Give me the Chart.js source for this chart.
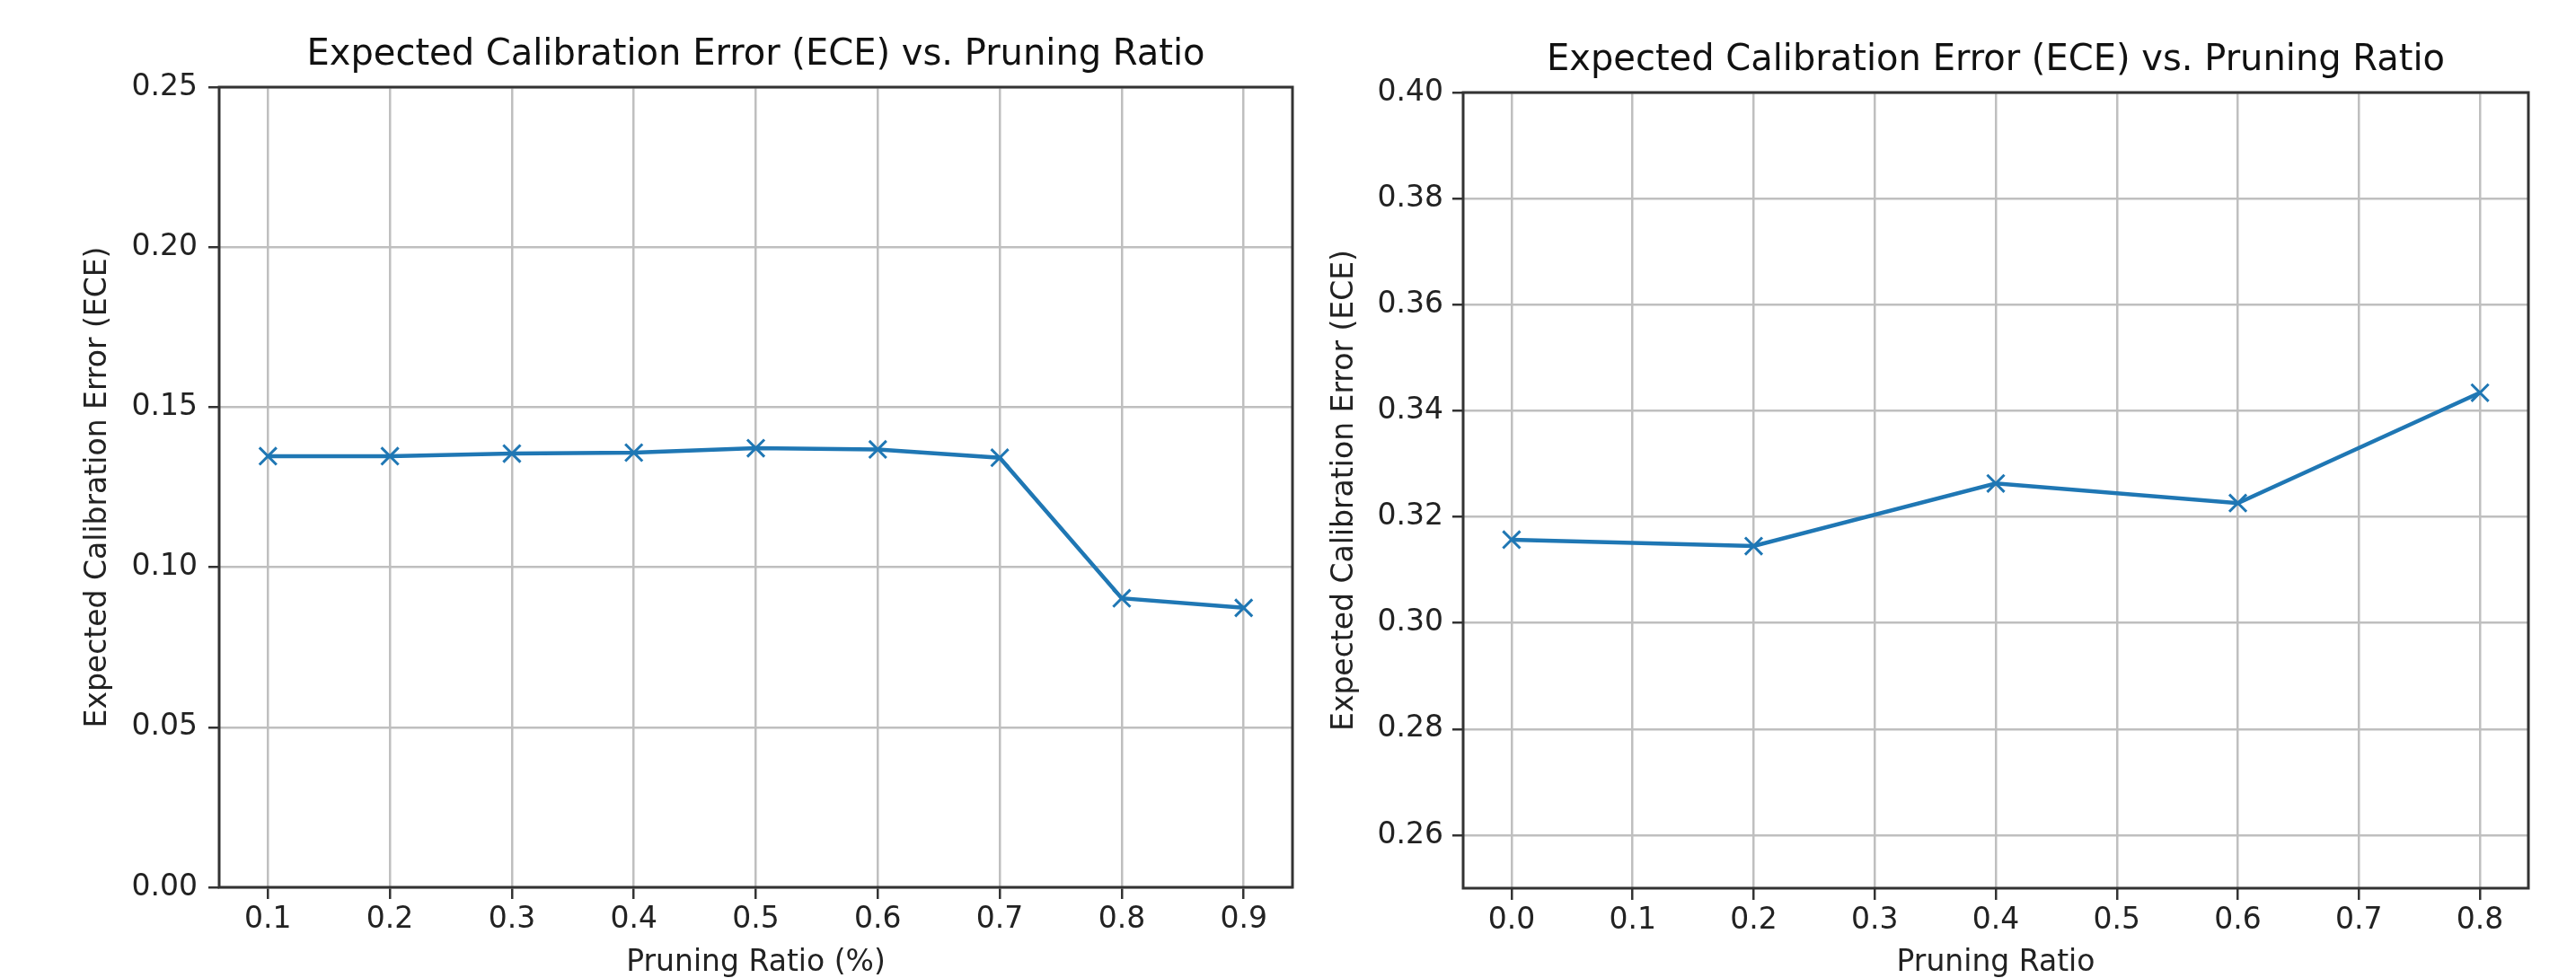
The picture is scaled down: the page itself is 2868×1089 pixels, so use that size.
<!DOCTYPE html>
<html>
<head>
<meta charset="utf-8">
<title>Expected Calibration Error (ECE) vs. Pruning Ratio</title>
<script src="https://cdn.jsdelivr.net/npm/chart.js@4.4.1/dist/chart.umd.min.js"></script>
<style>
  html, body { margin: 0; padding: 0; background: #fff; }
  body { width: 2868px; height: 1089px; position: relative; overflow: hidden; }
  canvas { position: absolute; top: 0; }
  #eceLeft { left: 0; }
  #eceRight { left: 1460px; }
</style>
</head>
<body>
<canvas id="eceLeft" width="1460" height="1089"></canvas>
<canvas id="eceRight" width="1408" height="1089"></canvas>
<script>
// Left panel: pruning ratio 0.1 .. 0.9
var leftRatios = [0.1, 0.2, 0.3, 0.4, 0.5, 0.6, 0.7, 0.8, 0.9];
var leftEce = [0.1347, 0.1347, 0.1355, 0.1358, 0.1372, 0.1368, 0.1342, 0.0903, 0.0873];
var leftXTicks = [0.1, 0.2, 0.3, 0.4, 0.5, 0.6, 0.7, 0.8, 0.9];
var leftYTicks = [0.00, 0.05, 0.10, 0.15, 0.20, 0.25];

// Right panel: pruning ratio 0.0 .. 0.8 (step 0.2)
var rightRatios = [0.0, 0.2, 0.4, 0.6, 0.8];
var rightEce = [0.3157, 0.3145, 0.3263, 0.3226, 0.3434];
var rightXTicks = [0.0, 0.1, 0.2, 0.3, 0.4, 0.5, 0.6, 0.7, 0.8];
var rightYTicks = [0.26, 0.28, 0.30, 0.32, 0.34, 0.36, 0.38, 0.40];

var TITLE = 'Expected Calibration Error (ECE) vs. Pruning Ratio';
var Y_LABEL = 'Expected Calibration Error (ECE)';
var FONT = '"DejaVu Sans", sans-serif';
var TEXT = '#222';

// draw all four spines around the plot area
var framePlugin = {
  id: 'frame',
  afterDraw: function (chart) {
    var a = chart.chartArea;
    var ctx = chart.ctx;
    ctx.save();
    ctx.strokeStyle = '#333';
    ctx.lineWidth = 3;
    ctx.strokeRect(a.left, a.top, a.right - a.left, a.bottom - a.top);
    ctx.restore();
  }
};

function fixedTicks(list) {
  return function (scale) {
    scale.ticks = list.map(function (v) { return { value: v }; });
  };
}

function makeChart(canvas, cfg) {
  var points = cfg.xs.map(function (x, i) { return { x: x, y: cfg.ys[i] }; });
  var tickFont = { family: FONT, size: 33 };
  return new Chart(canvas.getContext('2d'), {
    type: 'line',
    data: {
      datasets: [{
        data: points,
        borderColor: '#1f77b4',
        borderWidth: 4.5,
        pointStyle: 'crossRot',
        pointRadius: 13.5,
        pointBorderWidth: 3,
        pointBorderColor: '#1f77b4',
        pointBackgroundColor: '#1f77b4',
        tension: 0,
        fill: false
      }]
    },
    options: {
      responsive: false,
      animation: false,
      devicePixelRatio: 1,
      events: [],
      layout: { padding: { left: 0, top: 0, bottom: 0, right: cfg.padRight } },
      plugins: {
        legend: { display: false },
        tooltip: { enabled: false },
        title: {
          display: true,
          text: TITLE,
          fullSize: false,
          color: '#111',
          font: { family: FONT, size: 40, weight: 'normal', lineHeight: 1.2 },
          padding: { top: cfg.titleTop, bottom: cfg.titleBottom }
        }
      },
      scales: {
        x: {
          type: 'linear',
          min: cfg.xMin,
          max: cfg.xMax,
          afterBuildTicks: fixedTicks(cfg.xTicks),
          afterFit: function (s) { s.height = cfg.xHeight; },
          ticks: {
            callback: function (v) { return Number(v).toFixed(1); },
            font: tickFont, color: TEXT, padding: 4,
            maxRotation: 0, minRotation: 0, autoSkip: false
          },
          grid: { color: '#bfbfbf', lineWidth: 2.5, tickLength: 13, tickColor: '#333', tickWidth: 2.5 },
          border: { display: false },
          title: {
            display: true, text: cfg.xLabel, color: TEXT,
            font: { family: FONT, size: 33, lineHeight: 1.2 },
            padding: { top: 0, bottom: -3 }
          }
        },
        y: {
          type: 'linear',
          min: cfg.yMin,
          max: cfg.yMax,
          afterBuildTicks: fixedTicks(cfg.yTicks),
          afterFit: function (s) { s.width = cfg.yWidth; },
          ticks: {
            callback: function (v) { return Number(v).toFixed(2); },
            font: tickFont, color: TEXT, padding: cfg.yTickPad, autoSkip: false
          },
          grid: { color: '#bfbfbf', lineWidth: 2.5, tickLength: 12, tickColor: '#333', tickWidth: 2.5 },
          border: { display: false },
          title: {
            display: true, text: Y_LABEL, color: TEXT,
            font: { family: FONT, size: 33, lineHeight: 1.2 },
            padding: { top: cfg.yTitlePad, bottom: 0 }
          }
        }
      }
    },
    plugins: [framePlugin]
  });
}

makeChart(document.getElementById('eceLeft'), {
  xs: leftRatios, ys: leftEce,
  xTicks: leftXTicks, yTicks: leftYTicks,
  xMin: 0.06, xMax: 0.94, yMin: 0, yMax: 0.25,
  xLabel: 'Pruning Ratio (%)',
  padRight: 21, yWidth: 244, xHeight: 101,
  titleTop: 38, titleBottom: 11,
  yTickPad: 12, yTitlePad: 90
});

makeChart(document.getElementById('eceRight'), {
  xs: rightRatios, ys: rightEce,
  xTicks: rightXTicks, yTicks: rightYTicks,
  xMin: -0.04, xMax: 0.84, yMin: 0.25, yMax: 0.40,
  xLabel: 'Pruning Ratio',
  padRight: 53, yWidth: 169, xHeight: 100,
  titleTop: 44, titleBottom: 11,
  yTickPad: 10, yTitlePad: 18
});
</script>
</body>
</html>
